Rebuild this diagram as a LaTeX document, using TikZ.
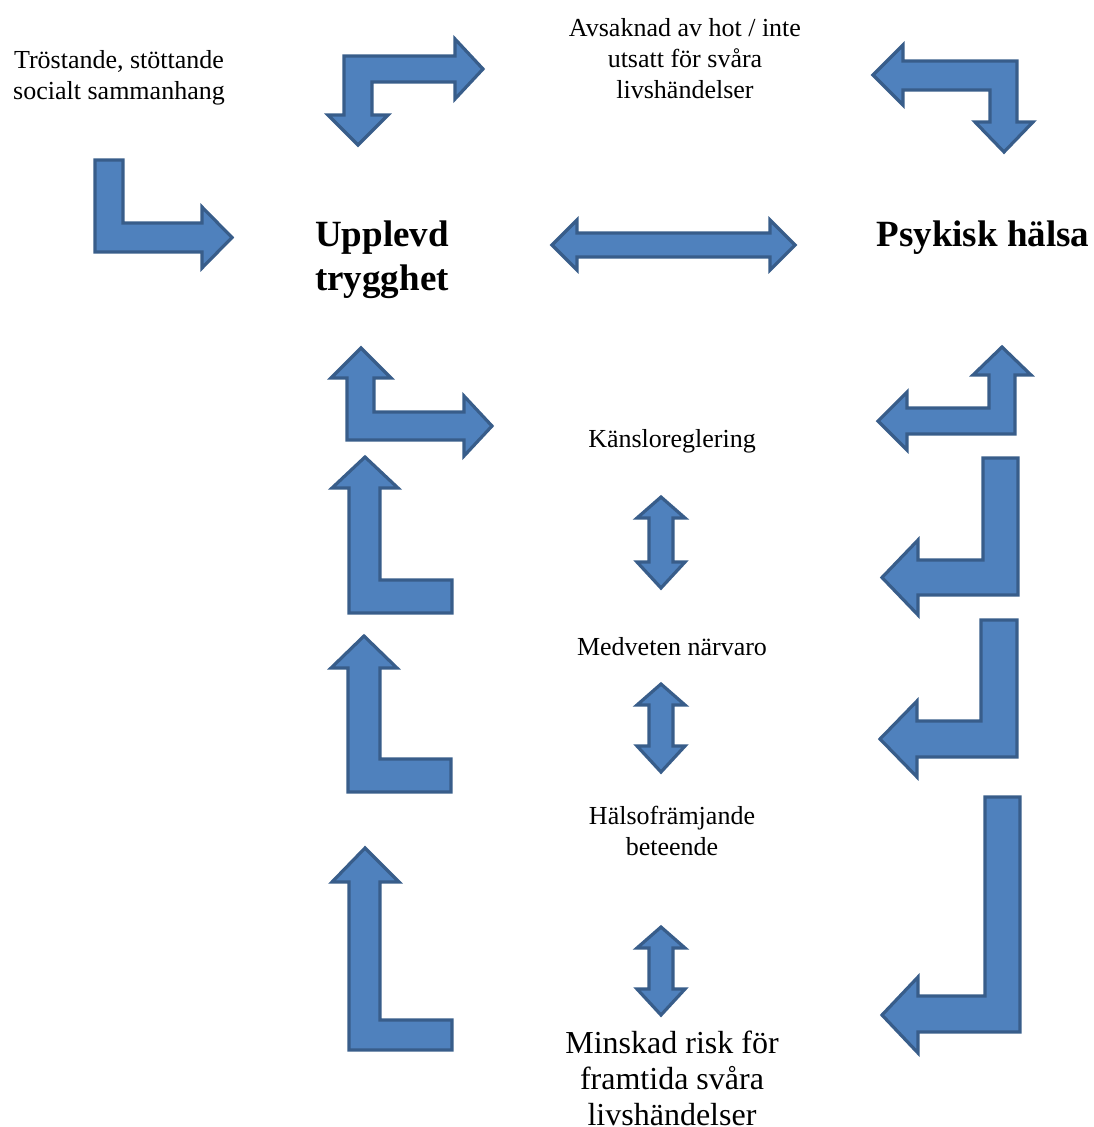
\documentclass[tikz,border=0pt]{standalone}
\usepackage{fontspec}
\setmainfont{Liberation Serif}
\definecolor{arrfill}{HTML}{4F81BD}
\definecolor{arrline}{HTML}{385D8A}
\tikzset{
  blockarrow/.style={fill=arrfill, draw=arrline, line width=3.2pt, line join=miter},
  smalltxt/.style={align=center, font=\fontsize{26}{31}\selectfont, inner sep=0pt},
  bigtxt/.style={align=center, font=\fontsize{37}{44}\selectfont\bfseries, inner sep=0pt},
  midtxt/.style={align=center, font=\fontsize{32}{36}\selectfont, inner sep=0pt}
}
\newcommand\vdoublearrow[3]{% x, top tip y, bottom tip y
  \draw[blockarrow] (#1,#2) -- (#1+24,#2+21) -- (#1+12,#2+21) -- (#1+12,#3-26) -- (#1+24,#3-26)
    -- (#1,#3) -- (#1-24,#3-26) -- (#1-12,#3-26) -- (#1-12,#2+21) -- (#1-24,#2+21) -- cycle;}
\begin{document}
\begin{tikzpicture}[x=1pt,y=-1pt]
\useasboundingbox (0,0) rectangle (1094,1127);

% texts
\node[smalltxt] (social) at (119,78) {Tröstande, stöttande\\socialt sammanhang};
\node[smalltxt] (hot) at (685,59) {Avsaknad av hot / inte\\utsatt för svåra\\livshändelser};
\node[bigtxt] (trygg) at (382,260) {Upplevd\\trygghet};
\node[bigtxt] (halsa) at (983,238) {Psykisk hälsa};
\node[smalltxt] (kansl) at (672,441) {Känsloreglering};
\node[smalltxt] (medv) at (672,647) {Medveten närvaro};
\node[smalltxt] (halsof) at (672,831) {Hälsofrämjande\\beteende};
\node[midtxt] (risk) at (672,1078) {Minskad risk för\\framtida svåra\\livshändelser};

% A1 top: down + right
\draw[blockarrow] (483,69) -- (455,99) -- (455,82) -- (372,82) -- (372,115) -- (388,115)
  -- (358,145) -- (328,115) -- (344,115) -- (344,56) -- (455,56) -- (455,39) -- cycle;
% A2 top right: left + down
\draw[blockarrow] (873,75) -- (903,45) -- (903,61) -- (1017,61) -- (1017,122) -- (1033,122)
  -- (1004,152) -- (975,122) -- (990,122) -- (990,90) -- (903,90) -- (903,105) -- cycle;
% A3 left
\draw[blockarrow] (95,160) -- (123,160) -- (123,223) -- (202,223) -- (202,207) -- (232,237.5)
  -- (202,268) -- (202,252) -- (95,252) -- cycle;
% A4 horizontal double
\draw[blockarrow] (552,245) -- (577,220) -- (577,233) -- (770,233) -- (770,220) -- (795,245)
  -- (770,270) -- (770,257) -- (577,257) -- (577,270) -- cycle;
% A5 up + right
\draw[blockarrow] (361,348) -- (391,378) -- (374,378) -- (374,412) -- (464,412) -- (464,396)
  -- (492,426) -- (464,456) -- (464,440) -- (347,440) -- (347,378) -- (331,378) -- cycle;
% A6 left + up
\draw[blockarrow] (878,421) -- (907,392) -- (907,408) -- (989,408) -- (989,375) -- (973,375)
  -- (1002,347) -- (1031,375) -- (1015,375) -- (1015,434) -- (907,434) -- (907,450) -- cycle;
% left column L arrows
\draw[blockarrow] (365,457) -- (398,488) -- (380,488) -- (380,580) -- (452,580) -- (452,613)
  -- (349,613) -- (349,488) -- (332,488) -- cycle;
\draw[blockarrow] (364,636) -- (397,668) -- (380,668) -- (380,759) -- (451,759) -- (451,792)
  -- (348,792) -- (348,668) -- (331,668) -- cycle;
\draw[blockarrow] (365,848) -- (399,882) -- (380,882) -- (380,1020) -- (452,1020) -- (452,1050)
  -- (349,1050) -- (349,882) -- (332,882) -- cycle;
% right column arrows
\draw[blockarrow] (983,458) -- (1018,458) -- (1018,595) -- (918,595) -- (918,615) -- (882,577.5)
  -- (918,540) -- (918,560) -- (983,560) -- cycle;
\draw[blockarrow] (981,620) -- (1017,620) -- (1017,757) -- (917,757) -- (917,777) -- (880,739)
  -- (917,701) -- (917,721) -- (981,721) -- cycle;
\draw[blockarrow] (985,797) -- (1020,797) -- (1020,1032) -- (918,1032) -- (918,1053) -- (882,1015)
  -- (918,977) -- (918,996) -- (985,996) -- cycle;
% small vertical doubles
\vdoublearrow{661}{497}{588}
\vdoublearrow{661}{684}{772}
\vdoublearrow{661}{927}{1015}
\end{tikzpicture}
\end{document}
